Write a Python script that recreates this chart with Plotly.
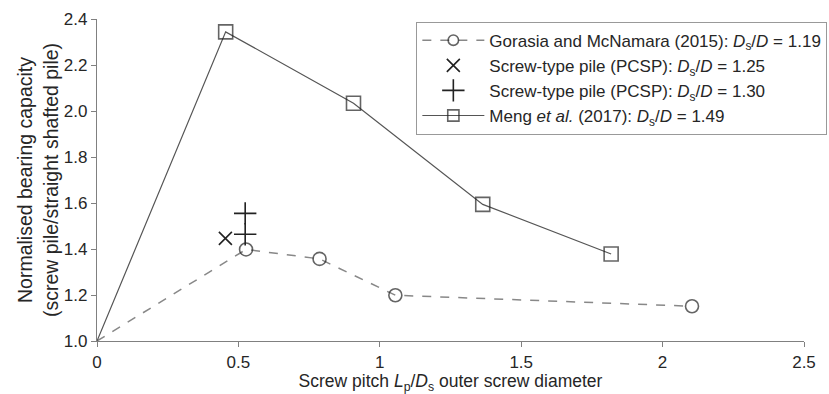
import plotly.graph_objects as go

# Gorasia and McNamara (2015), Ds/D = 1.19
gor_x = [0.0, 0.527, 0.787, 1.055, 2.104]
gor_y = [1.0, 1.398, 1.357, 1.199, 1.151]

# Screw-type pile (PCSP), Ds/D = 1.25
pcsp125_x = [0.454]
pcsp125_y = [1.446]

# Screw-type pile (PCSP), Ds/D = 1.30
pcsp130_x = [0.524, 0.524]
pcsp130_y = [1.555, 1.464]

# Meng et al. (2017), Ds/D = 1.49
meng_x = [0.0, 0.455, 0.907, 1.364, 1.818]
meng_y = [1.0, 2.344, 2.034, 1.594, 1.378]

x_ticks = [0, 0.5, 1, 1.5, 2, 2.5]
x_ticklabels = ["0", "0.5", "1", "1.5", "2", "2.5"]
y_ticks = [1.0, 1.2, 1.4, 1.6, 1.8, 2.0, 2.2, 2.4]
y_ticklabels = ["1.0", "1.2", "1.4", "1.6", "1.8", "2.0", "2.2", "2.4"]

FONT = "Liberation Sans, Arial, sans-serif"
TEXT = "#262626"
MARK = "#222222"
AXIS = "#808080"

fig = go.Figure()

fig.add_trace(go.Scatter(
    x=gor_x, y=gor_y, mode="lines+markers",
    name="Gorasia and McNamara (2015): <i>D</i><sub>s</sub>/<i>D</i> = 1.19",
    line=dict(color="#888888", width=1.5, dash="dash"),
    marker=dict(symbol="circle-open", size=[0] + [13] * (len(gor_x) - 1),
                color=MARK, line=dict(width=1.6, color=MARK)),
))

fig.add_trace(go.Scatter(
    x=pcsp125_x, y=pcsp125_y, mode="markers",
    name="Screw-type pile (PCSP): <i>D</i><sub>s</sub>/<i>D</i> = 1.25",
    marker=dict(symbol="x-thin-open", size=13, color=MARK,
                line=dict(width=1.6, color=MARK)),
))

fig.add_trace(go.Scatter(
    x=pcsp130_x, y=pcsp130_y, mode="markers",
    name="Screw-type pile (PCSP): <i>D</i><sub>s</sub>/<i>D</i> = 1.30",
    marker=dict(symbol="cross-thin-open", size=16, color=MARK,
                line=dict(width=1.6, color=MARK)),
))

fig.add_trace(go.Scatter(
    x=meng_x, y=meng_y, mode="lines+markers",
    name="Meng <i>et al.</i> (2017): <i>D</i><sub>s</sub>/<i>D</i> = 1.49",
    line=dict(color="#555555", width=1.2),
    marker=dict(symbol="square-open", size=[0] + [14] * (len(meng_x) - 1),
                color=MARK, line=dict(width=1.6, color=MARK)),
))

fig.update_layout(
    width=829, height=394,
    margin=dict(l=97, r=25, t=19, b=53, autoexpand=False),
    paper_bgcolor="white", plot_bgcolor="white",
    font=dict(family=FONT, size=17, color=TEXT),
    showlegend=True,
    legend=dict(
        xref="container", yref="container",
        x=0.998, y=0.945, xanchor="right", yanchor="top",
        bordercolor="#999999", borderwidth=1, bgcolor="white",
        font=dict(family=FONT, size=17, color=TEXT),
        itemwidth=62, tracegroupgap=0,
    ),
    xaxis=dict(
        range=[0, 2.5], tickvals=x_ticks, ticktext=x_ticklabels,
        showgrid=False, zeroline=False, showline=True,
        linecolor=AXIS, linewidth=1.2,
        ticks="outside", ticklen=5, tickcolor=AXIS,
        title=dict(text="Screw pitch <i>L</i><sub>p</sub>/<i>D</i><sub>s</sub> outer screw diameter",
                   standoff=6, font=dict(size=17.5)),
        tickfont=dict(size=17),
    ),
    yaxis=dict(
        range=[1.0, 2.4], tickvals=y_ticks, ticktext=y_ticklabels,
        showgrid=False, zeroline=False, showline=True,
        linecolor=AXIS, linewidth=1.2,
        ticks="outside", ticklen=5, tickcolor=AXIS,
        title=dict(text="Normalised bearing capacity<br>(screw pile/straight shafted pile)",
                   standoff=0, font=dict(size=19.5)),
        tickfont=dict(size=17),
    ),
)

fig.write_html("out.html")
